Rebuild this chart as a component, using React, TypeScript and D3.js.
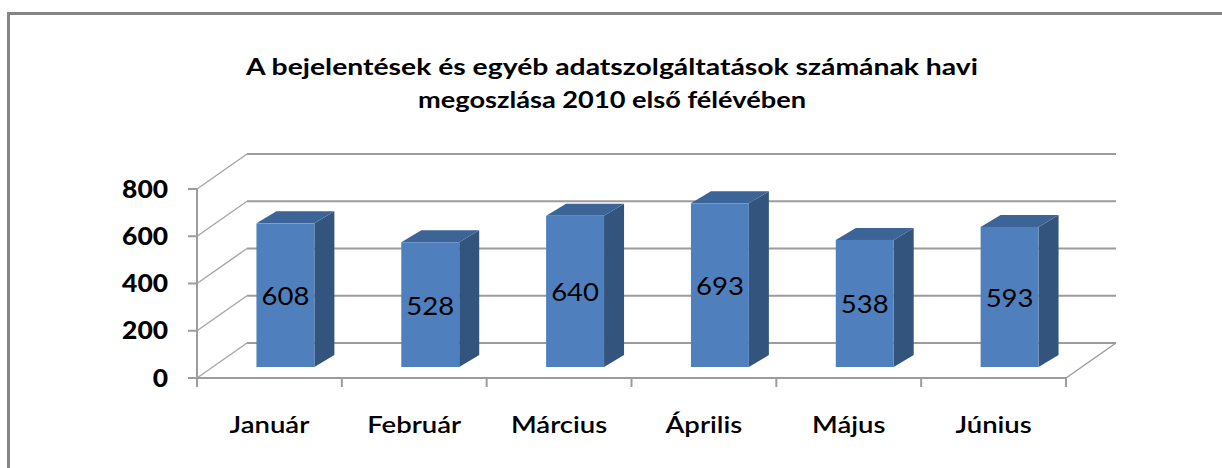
import React from "react";
import * as d3 from "d3";

const categories = ["Január", "Február", "Március", "Április", "Május", "Június"];
const values = [608, 528, 640, 693, 538, 593];
const yTicks = [0, 200, 400, 600, 800];
const titleLines = [
  "A bejelentések és egyéb adatszolgáltatások számának havi",
  "megoszlása 2010 első félévében",
];

const W = 1222;
const H = 468;
const FRONT_LEFT = 197;
const FRONT_RIGHT = 1066;
const FRONT_BOTTOM = 378;
const FRONT_TOP = 189;
const DEPTH_X = 50;
const DEPTH_Y = -35;
const BAR_SHIFT_X = 16;
const BAR_SHIFT_Y = -11;
const BAR_DX = 20;
const BAR_DY = -12;
const FONT = "Lato, 'Open Sans', 'DejaVu Sans', sans-serif";

export default function App() {
  const y = d3.scaleLinear().domain([0, 800]).range([FRONT_BOTTOM, FRONT_TOP]);
  const x = d3
    .scaleBand<string>()
    .domain(categories)
    .range([FRONT_LEFT, FRONT_RIGHT])
    .paddingInner(0.6)
    .paddingOuter(0.3);
  const bw = x.bandwidth();
  const grid = "#9c9c9c";
  const boundaries = d3.range(categories.length + 1).map((i) => FRONT_LEFT + (i * (FRONT_RIGHT - FRONT_LEFT)) / categories.length);

  return (
    <svg
      width={W}
      height={H}
      style={{ position: "absolute", left: 0, top: 0, background: "#fff" }}
    >
      <rect x={8.5} y={13.5} width={W + 20} height={H + 20} fill="#fff" stroke="#858585" strokeWidth={3} />

      {titleLines.map((t, i) => (
        <text
          key={i}
          x={612}
          y={75 + i * 33}
          textAnchor="middle"
          fontFamily={FONT}
          fontWeight="bold"
          fontSize={23}
          textLength={i === 0 ? 732 : 388}
          lengthAdjust="spacingAndGlyphs"
          fill="#000"
        >
          {t}
        </text>
      ))}

      {/* floor */}
      <line x1={FRONT_RIGHT} y1={FRONT_BOTTOM} x2={FRONT_RIGHT + DEPTH_X} y2={FRONT_BOTTOM + DEPTH_Y} stroke={grid} strokeWidth={1.5} />

      {/* grid lines: left wall diagonals + back wall */}
      {yTicks.map((t) => (
        <g key={t}>
          <line
            x1={FRONT_LEFT}
            y1={y(t)}
            x2={FRONT_LEFT + DEPTH_X}
            y2={y(t) + DEPTH_Y}
            stroke="#a8a8a8"
            strokeWidth={1.5}
          />
          <line
            x1={FRONT_LEFT + DEPTH_X}
            y1={y(t) + DEPTH_Y}
            x2={FRONT_RIGHT + DEPTH_X}
            y2={y(t) + DEPTH_Y}
            stroke={grid}
            strokeWidth={2}
          />
        </g>
      ))}

      {/* bars */}
      {categories.map((c, i) => {
        const v = values[i];
        const x0 = (x(c) as number) + BAR_SHIFT_X;
        const x1 = x0 + bw;
        const yb = FRONT_BOTTOM + BAR_SHIFT_Y;
        const yt = y(v) + BAR_SHIFT_Y;
        return (
          <g key={c}>
            <polygon
              points={`${x1},${yt} ${x1 + BAR_DX},${yt + BAR_DY} ${x1 + BAR_DX},${yb + BAR_DY} ${x1},${yb}`}
              fill="#33557d"
            />
            <polygon
              points={`${x0},${yt} ${x1},${yt} ${x1 + BAR_DX},${yt + BAR_DY} ${x0 + BAR_DX},${yt + BAR_DY}`}
              fill="#3d6497"
            />
            <rect x={x0} y={yt} width={bw} height={yb - yt} fill="#4f80bd" />
            <g transform={`translate(${x0 + bw / 2},${(yt + yb) / 2 + 10}) scale(1.1,1)`}>
              <text textAnchor="middle" fontFamily={FONT} fontSize={25} fill="#000">
                {v}
              </text>
            </g>
          </g>
        );
      })}

      {/* front axes */}
      <line x1={FRONT_LEFT} y1={FRONT_TOP} x2={FRONT_LEFT} y2={FRONT_BOTTOM} stroke={grid} strokeWidth={2} />
      <line x1={FRONT_LEFT} y1={FRONT_BOTTOM} x2={FRONT_RIGHT} y2={FRONT_BOTTOM} stroke={grid} strokeWidth={2} />
      {yTicks.map((t) => (
        <g key={t}>
          <line x1={FRONT_LEFT - 9} y1={y(t)} x2={FRONT_LEFT} y2={y(t)} stroke={grid} strokeWidth={2} />
          <g transform={`translate(168,${y(t) + 8.5}) scale(1.1,1)`}>
            <text textAnchor="end" fontFamily={FONT} fontWeight={900} fontSize={24} fill="#000">
              {t}
            </text>
          </g>
        </g>
      ))}
      {boundaries.map((b, i) => (
        <line key={i} x1={b} y1={FRONT_BOTTOM} x2={b} y2={FRONT_BOTTOM + 9} stroke={grid} strokeWidth={2} />
      ))}
      {categories.map((c) => (
        <g key={c} transform={`translate(${(x(c) as number) + bw / 2},433) scale(1.25,1)`}>
          <text textAnchor="middle" fontFamily={FONT} fontWeight={600} fontSize={22} fill="#000">
            {c}
          </text>
        </g>
      ))}
    </svg>
  );
}
